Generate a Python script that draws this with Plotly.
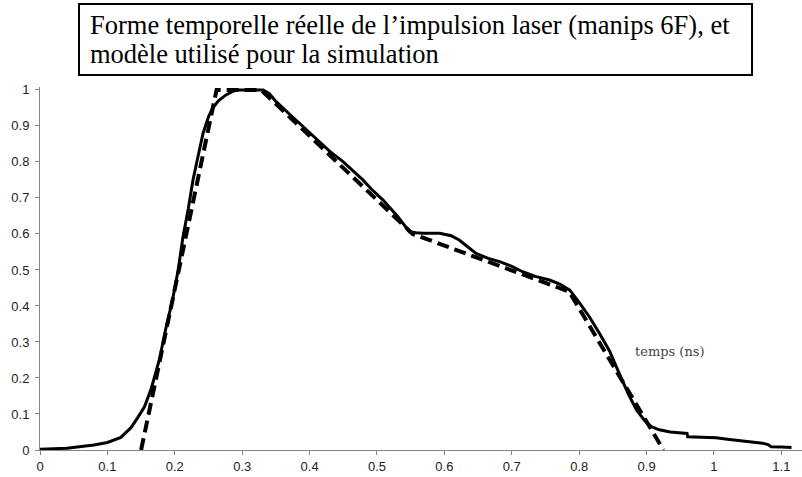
import plotly.graph_objects as go

# Measured pulse (solid)
t_mesure = [0, 0.04, 0.08, 0.1, 0.12, 0.135, 0.145, 0.155, 0.165, 0.177, 0.187, 0.197,
            0.205, 0.212, 0.22, 0.227, 0.235, 0.242, 0.25, 0.256, 0.265, 0.276, 0.285,
            0.294, 0.31, 0.331, 0.34, 0.35, 0.37, 0.39, 0.41, 0.43, 0.45, 0.469, 0.479,
            0.494, 0.509, 0.531, 0.548, 0.558, 0.568, 0.593, 0.61, 0.622, 0.635, 0.647,
            0.665, 0.682, 0.7, 0.716, 0.735, 0.756, 0.772, 0.786, 0.8, 0.815, 0.83,
            0.845, 0.86, 0.873, 0.885, 0.897, 0.907, 0.919, 0.935, 0.96, 0.961, 0.98,
            1.003, 1.02, 1.038, 1.055, 1.072, 1.08, 1.085, 1.1, 1.115]
i_mesure = [0.002, 0.005, 0.014, 0.021, 0.035, 0.062, 0.09, 0.12, 0.17, 0.25, 0.34, 0.42,
            0.5, 0.59, 0.67, 0.75, 0.82, 0.88, 0.925, 0.949, 0.97, 0.986, 0.995,
            1.0, 1.0, 1.0, 0.99, 0.968, 0.933, 0.898, 0.863, 0.829, 0.8, 0.769, 0.75,
            0.72, 0.694, 0.648, 0.606, 0.603, 0.602, 0.602, 0.595, 0.583, 0.565, 0.546,
            0.532, 0.523, 0.51, 0.495, 0.482, 0.472, 0.46, 0.444, 0.41, 0.37, 0.324,
            0.275, 0.21, 0.155, 0.111, 0.082, 0.065, 0.056, 0.05, 0.046, 0.037, 0.035,
            0.034, 0.03, 0.026, 0.023, 0.019, 0.015, 0.009, 0.008, 0.007]

# Simulation model (dashed)
t_modele = [0.15, 0.262, 0.328, 0.553, 0.785, 0.925]
i_modele = [0.0, 1.0, 1.0, 0.6, 0.44, 0.0]

x_ticks = [0, 0.1, 0.2, 0.3, 0.4, 0.5, 0.6, 0.7, 0.8, 0.9, 1.0, 1.1]
x_labels = ["0", "0.1", "0.2", "0.3", "0.4", "0.5", "0.6", "0.7", "0.8", "0.9", "1", "1.1"]
y_ticks = [0, 0.1, 0.2, 0.3, 0.4, 0.5, 0.6, 0.7, 0.8, 0.9, 1.0]
y_labels = ["0", "0.1", "0.2", "0.3", "0.4", "0.5", "0.6", "0.7", "0.8", "0.9", "1"]

titre_ligne1 = "Forme temporelle réelle de l’impulsion laser (manips 6F), et"
titre_ligne2 = "modèle utilisé pour la simulation"
axe_label = "temps (ns)"

fig = go.Figure()
fig.add_trace(go.Scatter(x=t_mesure, y=i_mesure, mode="lines",
                         line=dict(color="black", width=3), showlegend=False))
fig.add_trace(go.Scatter(x=t_modele, y=i_modele, mode="lines",
                         line=dict(color="black", width=4, dash="12px,6px"), showlegend=False))

axis_font = dict(family="Liberation Sans, Arial", size=13, color="#222222")
title_font = dict(family="Liberation Serif, Times New Roman", size=26.5, color="black")
fig.update_layout(
    width=802, height=477,
    margin=dict(l=40, r=0, t=87, b=27),
    paper_bgcolor="white", plot_bgcolor="white",
    xaxis=dict(range=[0, 1.1306], tickvals=x_ticks, ticktext=x_labels,
               showgrid=False, zeroline=False, showline=True, linecolor="#868686",
               linewidth=1, ticks="outside", ticklen=4, tickcolor="#868686",
               tickfont=axis_font),
    yaxis=dict(range=[0, 1.008], tickvals=y_ticks, ticktext=y_labels,
               showgrid=False, zeroline=False, showline=True, linecolor="#868686",
               linewidth=1, ticks="outside", ticklen=4, tickcolor="#868686",
               tickfont=axis_font, ticklabelstandoff=3),
    shapes=[
        dict(type="rect", xref="paper", yref="paper", x0=0.0512, x1=0.9344,
             y0=1.0331, y1=1.2287, line=dict(color="black", width=2), fillcolor="white"),
    ],
    annotations=[
        dict(xref="paper", yref="paper", x=0.063, y=1.170, xanchor="left", yanchor="middle",
             text=titre_ligne1, showarrow=False, font=title_font),
        dict(xref="paper", yref="paper", x=0.063, y=1.0917, xanchor="left", yanchor="middle",
             text=titre_ligne2, showarrow=False, font=title_font),
        dict(xref="x", yref="y", x=0.935, y=0.273, text=axe_label, showarrow=False,
             font=dict(family="DejaVu Serif", size=13, color="#444444")),
    ],
)

fig.write_html("out.html", config={"displayModeBar": False},
               post_script="document.body.style.margin='0';")
